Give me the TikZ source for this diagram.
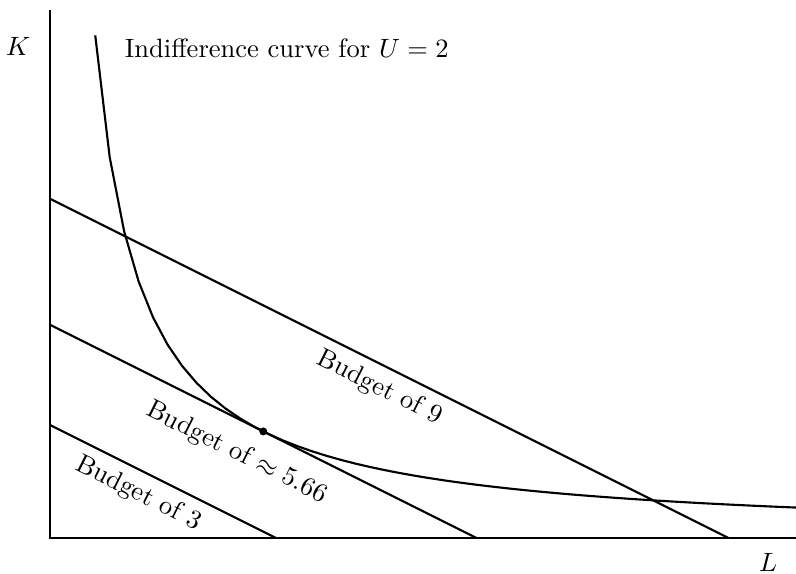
\documentclass[tikz,border=0pt]{standalone}
\usepackage{amsmath, amssymb}
\usepackage{tikz}
\usetikzlibrary{positioning}

\begin{document}
\begin{tikzpicture}[thick, x=1cm, y=1cm,
            budget/.style={sloped, below},
            optimum/.style={circle, fill=black, inner sep=0pt, minimum size=3pt}]
          \useasboundingbox (-0.663,-0.464) rectangle (9.894,7.136);
          % axes
          \coordinate (origin) at (0,0);
          \coordinate (ktop) at (0,7);
          \coordinate (lend) at (9.894,0);
          \draw (ktop) -- (origin) -- (lend);
          \node (klabel) at (-0.424,6.525) {$K$};
          \node (llabel) at (9.523,-0.33) {$L$};
          % indifference curve K = 4/L
          \begin{scope}
            \clip (-0.663,-0.464) rectangle (9.894,7.136);
            \draw[domain=0.6:10, samples=50] plot (\x, {4/\x});
          \end{scope}
          \node (ulabel) at (3.14,6.5) {Indifference curve for $U = 2$};
          % budget lines L + 2K = B
          \coordinate (k3) at (0,1.5);
          \coordinate (l3) at (3,0);
          \coordinate (kmin) at (0,{sqrt(2)*2});
          \coordinate (lmin) at ({4*sqrt(2)},0);
          \coordinate (k9) at (0,4.5);
          \coordinate (l9) at (9,0);
          \draw (k3) -- node[budget, pos=0.435] {Budget of $3$} (l3);
          \draw (kmin) -- node[budget, pos=0.47, below=3.5pt] {Budget of $\approx 5.66$} (lmin);
          \draw (k9) -- node[budget, pos=0.5] {Budget of $9$} (l9);
          \node[optimum] (opt) at ({2*sqrt(2)},{sqrt(2)}) {};
        \end{tikzpicture}
\end{document}
